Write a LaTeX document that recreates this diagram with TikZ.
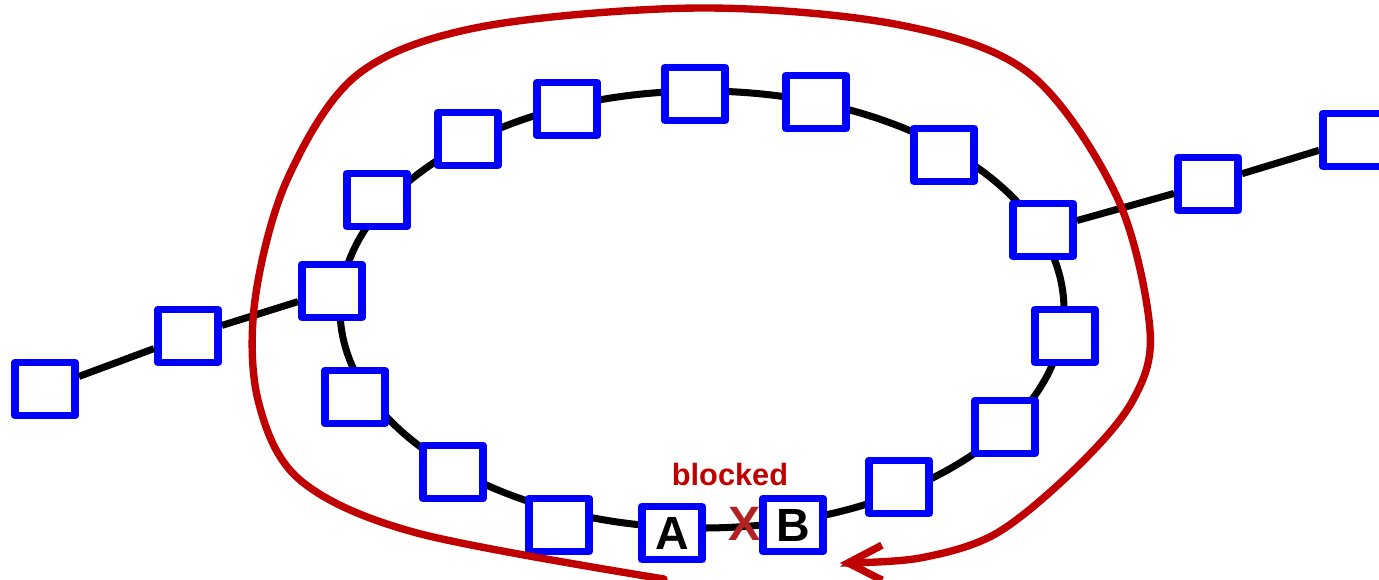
\documentclass[tikz,border=0pt]{standalone}
\usepackage{fontspec}
\setmainfont{Liberation Sans}
\usetikzlibrary{arrows.meta}
\definecolor{cellblue}{RGB}{0,0,255}
\definecolor{loopred}{RGB}{192,0,0}
\definecolor{crossred}{RGB}{178,34,34}

\begin{document}
\begin{tikzpicture}[x=0.02cm, y=-0.02cm,
  cell/.style={draw=cellblue, line width=4.5pt, fill=white, line join=round,
    minimum width=1.2cm, minimum height=1.06cm, inner sep=0pt,
    font=\bfseries\fontsize{26.5}{26.5}\selectfont},
  link/.style={line width=4pt, black},
  loop/.style={draw=loopred, line width=4.2pt, line cap=round}]
  % Fix the page size
  \useasboundingbox (0,0) rectangle (1379,579);

  % Define the centre of the ring
  \coordinate (O) at (702,309.5);

  % Draw the ring
  \draw[link] (O) ellipse [x radius=362, y radius=218.5];

  % Draw the cells on the ring
  \foreach \n/\x/\y/\t in {c1/695/94/, c2/816/102/, c3/944/155/, c4/1043/230/,
      c5/1065/336/, c6/1005/427/, c7/899/487/, c8/793/525/B, c9/672/533/A,
      c10/559/525/, c11/453/472/, c12/355/397/, c13/332/291/, c14/377/200/,
      c15/468/139/, c16/567/109/}
    \node[cell] (\n) at (\x,\y) {\t};

  % Draw the cells off the ring
  \node[cell] (l1) at (45,389) {};
  \node[cell] (l2) at (188,336) {};
  \node[cell] (r1) at (1208,184) {};
  \node[cell] (r2) at (1353,140) {};

  % Draw the tails
  \draw[link] (l1) -- (l2) -- (c13);
  \draw[link] (c4) -- (r1) -- (r2);

  % Draw the loop round the ring
  \draw[loop, -{Straight Barb[length=0.68cm, width=0.7cm]}] plot[smooth, tension=0.55]
    coordinates {(664,579) (417,533) (300,480) (258,400) (255,300) (287,180)
      (357,75) (480,27) (700,8) (900,25) (1030,74) (1117,197) (1150,330)
      (1133,400) (1077,467) (997,533) (920,558) (840,563)};

  % Label the blocked step
  \node[text=loopred, font=\bfseries\fontsize{17.5}{17.5}\selectfont, anchor=base] (blk) at (730,485) {blocked};
  \node[text=crossred, font=\bfseries\fontsize{27.5}{27.5}\selectfont, anchor=base] (x) at (745,540) {X};

\end{tikzpicture}
\end{document}
